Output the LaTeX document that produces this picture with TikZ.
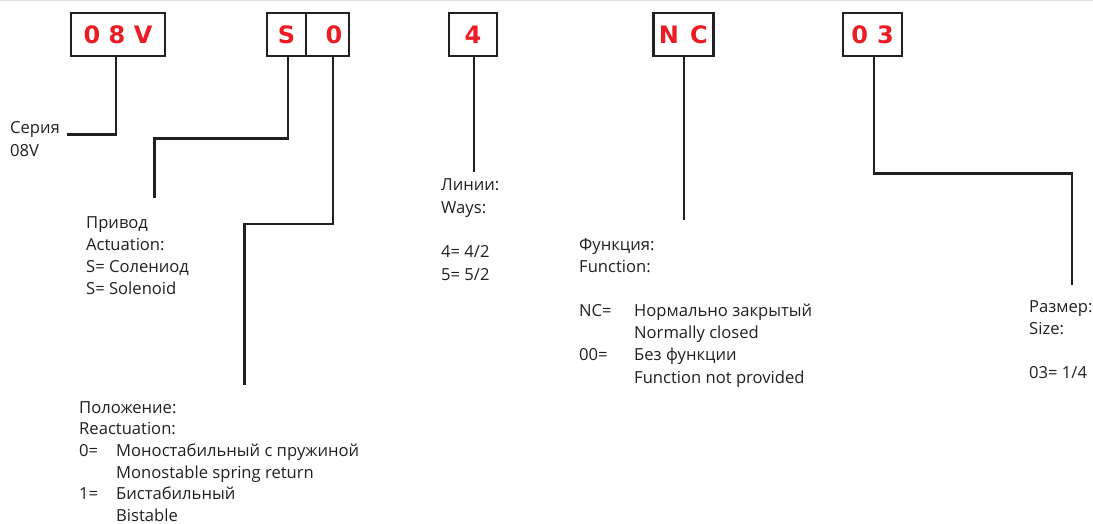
\documentclass[tikz,border=0pt]{standalone}
\usepackage{fontspec}
\setmainfont{Open Sans}
\newfontfamily\boxfont{DejaVu Sans}
\usetikzlibrary{calc}
\definecolor{cred}{HTML}{ED1C24}
\definecolor{ink}{HTML}{231F20}
\newcommand{\blk}[1]{\begin{tabular}[t]{@{}l@{}}#1\end{tabular}}
\begin{document}
\begin{tikzpicture}[x=1pt,y=-1pt,
  code/.style={draw=ink, line width=2.6pt, minimum height=43pt, inner sep=0pt,
    font=\boxfont\bfseries\fontsize{24}{24}\selectfont, text=cred},
  lead/.style={draw=ink, line width=2.6pt},
  lbl/.style={anchor=base west, inner sep=0pt, text=ink,
    font=\fontsize{16.6}{22.3}\selectfont}]
\useasboundingbox (0,0) rectangle (1093,524);
\draw[black!12, line width=1.2pt] (0,0.6) -- (1093,0.6);

% code boxes
\node[code, minimum width=94pt] (v08) at (118,34.5) {0\hspace{8.5pt}8\hspace{8.5pt}V};
\node[code, minimum width=39pt] (s) at (286.5,34.5) {S\hspace{10pt}};
\node[code, minimum width=43pt] (o) at (327.5,34.5) {\hspace{13pt}0};
\node[code, minimum width=48pt] (four) at (473,34.5) {4};
\node[code, minimum width=60pt] (nc) at (683.3,34.5) {N\hspace{11pt}C};
\node[code, minimum width=59pt] (z) at (872.5,34.5) {0\hspace{9pt}3};

% lead ends
\coordinate (e08) at (67,134.5);
\coordinate (eS) at (154.5,198);
\coordinate (eO) at (244.5,385);
\coordinate (e4) at (474,172);
\coordinate (enc) at (684,220);
\coordinate (e03) at (1072,285);

\draw[lead] ([xshift=-2pt]v08.south) |- (e08);
\draw[lead] ([xshift=1.5pt]s.south) -- ++(0,81) -| (eS);
\draw[lead] ([xshift=5.5pt]o.south) -- ++(0,166.5) -| (eO);
\draw[lead] ([xshift=1pt]four.south) -- (e4);
\draw[lead] ([xshift=0.7pt]nc.south) -- (enc);
\draw[lead] ([xshift=1.5pt]z.south) -- ++(0,116) -| (e03);

% labels
\node[lbl] (t08) at (10,134) {\blk{Серия\\08V}};
\node[lbl] (tS) at (86,228) {\blk{Привод\\Actuation:\\S= Солениод\\S= Solenoid}};
\node[lbl, font=\fontsize{16.6}{21.7}\selectfont] (tO) at (79,413) {\begin{tabular}[t]{@{}p{37pt}@{}l@{}}
\multicolumn{2}{@{}l@{}}{Положение:}\\
\multicolumn{2}{@{}l@{}}{Reactuation:}\\
0= & Моностабильный с пружиной\\
 & Monostable spring return\\
1= & Бистабильный\\
 & Bistable
\end{tabular}};
\node[lbl] (t4) at (441,191) {\blk{Линии:\\Ways:\\ \\4= 4/2\\5= 5/2}};
\node[lbl, font=\fontsize{16.6}{22.2}\selectfont] (tnc) at (579,250) {\begin{tabular}[t]{@{}p{55pt}@{}l@{}}
\multicolumn{2}{@{}l@{}}{Функция:}\\
\multicolumn{2}{@{}l@{}}{Function:}\\
 & \\
NC= & Нормально закрытый\\
 & Normally closed\\
00= & Без функции\\
 & Function not provided
\end{tabular}};
\node[lbl] (t03) at (1029,312) {\blk{Размер:\\Size:\\ \\03= 1/4}};
\end{tikzpicture}
\end{document}
